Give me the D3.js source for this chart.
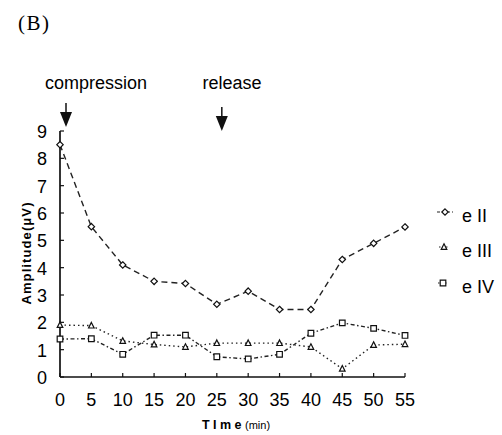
<!DOCTYPE html>
<html>
<head>
<meta charset="utf-8">
<script src="https://cdn.jsdelivr.net/npm/d3@7"></script>
<style>
  body { margin: 0; background: #fff; }
  text { font-family: "Liberation Sans", Arial, sans-serif; fill: #000; }
</style>
</head>
<body>
<svg id="chart" width="502" height="435"></svg>
<script>
const svg = d3.select("#chart");

// data
const times = [0, 5, 10, 15, 20, 25, 30, 35, 40, 45, 50, 55];
const eII  = [8.5, 5.5, 4.1, 3.5, 3.42, 2.66, 3.14, 2.47, 2.47, 4.3, 4.89, 5.49];
const eIII = [1.9, 1.88, 1.32, 1.19, 1.1, 1.24, 1.24, 1.24, 1.1, 0.3, 1.17, 1.2];
const eIV  = [1.39, 1.4, 0.83, 1.53, 1.53, 0.74, 0.66, 0.83, 1.6, 1.98, 1.78, 1.52];
const yTicks = [0, 1, 2, 3, 4, 5, 6, 7, 8, 9];
const xTicks = times;
const seriesNames = ["e II", "e III", "e IV"];
const events = [{t: 0, label: "compression"}, {t: 25, label: "release"}];

const x = d3.scaleLinear().domain([0, 55]).range([60, 405]);
const y = d3.scaleLinear().domain([0, 9]).range([377, 131]);

// panel label
svg.append("text").attr("x", 18).attr("y", 30)
  .style("font-family", "'Liberation Serif', 'DejaVu Serif', serif")
  .style("font-size", "21px").style("letter-spacing", "1.5px").text("(B)");

// axes
svg.append("line").attr("x1", x(0)).attr("x2", x(0)).attr("y1", y(9)).attr("y2", y(0))
  .attr("stroke", "#111").attr("stroke-width", 1.7);
svg.append("line").attr("x1", x(0)).attr("x2", x(55)).attr("y1", y(0)).attr("y2", y(0))
  .attr("stroke", "#111").attr("stroke-width", 1.7);

svg.append("g").selectAll("line").data(yTicks).enter().append("line")
  .attr("x1", x(0)).attr("x2", x(0) + 4)
  .attr("y1", d => y(d)).attr("y2", d => y(d))
  .attr("stroke", "#111").attr("stroke-width", 1.2);
svg.append("g").selectAll("text").data(yTicks).enter().append("text")
  .attr("x", 47).attr("y", d => y(d) + 7)
  .attr("text-anchor", "end").style("font-size", "18px").text(d => d);

svg.append("g").selectAll("line").data(xTicks).enter().append("line")
  .attr("x1", d => x(d)).attr("x2", d => x(d))
  .attr("y1", y(0)).attr("y2", y(0) - 4)
  .attr("stroke", "#111").attr("stroke-width", 1.2);
svg.append("g").selectAll("text").data(xTicks).enter().append("text")
  .attr("x", d => x(d)).attr("y", 406)
  .attr("text-anchor", "middle").style("font-size", "18px").text(d => d);

svg.append("text").attr("x", 236).attr("y", 429).attr("text-anchor", "middle")
  .style("font-size", "12.5px").style("font-weight", "bold")
  .html('T I m e <tspan style="font-size:11px;font-weight:normal">(min)</tspan>');

svg.append("text")
  .attr("transform", "translate(31,253) rotate(-90)")
  .attr("text-anchor", "middle")
  .style("font-size", "13px").style("font-weight", "bold").style("letter-spacing", "1.1px")
  .text("Amplitude(\u03BCV)");

// event labels and arrows
events.forEach(function (e, i) {
  const ax = x(e.t) + (i === 0 ? 6 : 5);
  svg.append("text").attr("x", i === 0 ? 96 : 232).attr("y", 89)
    .attr("text-anchor", "middle").style("font-size", "18px").text(e.label);
  const top = i === 0 ? 103 : 107;
  svg.append("line").attr("x1", ax).attr("x2", ax).attr("y1", top).attr("y2", top + 11)
    .attr("stroke", "#111").attr("stroke-width", 1.5);
  svg.append("path")
    .attr("d", `M${ax - 6},${top + 9} L${ax + 6},${top + 9} L${ax},${top + 24} Z`)
    .attr("fill", "#111");
});

// series
const series = [
  {name: seriesNames[0], values: eII,  dash: "6,4",           marker: "diamond"},
  {name: seriesNames[1], values: eIII, dash: "1.5,3",         marker: "triangle"},
  {name: seriesNames[2], values: eIV,  dash: "4,2.5,1.5,2.5", marker: "square"}
];

function markerPath(type, cx, cy) {
  if (type === "diamond") return `M${cx},${cy - 3.2} L${cx + 3.2},${cy} L${cx},${cy + 3.2} L${cx - 3.2},${cy} Z`;
  if (type === "triangle") return `M${cx},${cy - 3.2} L${cx + 2.8},${cy + 2.4} L${cx - 2.8},${cy + 2.4} Z`;
  return `M${cx - 2.8},${cy - 2.8} h5.6 v5.6 h-5.6 Z`;
}

const line = d3.line().x((d, i) => x(times[i])).y(d => y(d));

series.forEach(function (s) {
  svg.append("path").datum(s.values)
    .attr("d", line).attr("fill", "none")
    .attr("stroke", "#222").attr("stroke-width", 1.4)
    .attr("stroke-dasharray", s.dash);
  svg.append("g").selectAll("path").data(s.values).enter().append("path")
    .attr("d", (d, i) => markerPath(s.marker, x(times[i]), y(d)))
    .attr("fill", "#fff").attr("stroke", "#111").attr("stroke-width", 1.2);
});

// legend
const legendY = [212, 247, 283];
series.forEach(function (s, i) {
  const ly = legendY[i];
  const mx = 445 - i;
  svg.append("line").attr("x1", mx - (i === 0 ? 8 : 5)).attr("x2", mx + (i === 0 ? 8 : 5))
    .attr("y1", ly).attr("y2", ly)
    .attr("stroke", "#222").attr("stroke-width", 1.2)
    .attr("stroke-dasharray", i === 0 ? "3,2" : "1.5,2");
  svg.append("path").attr("d", markerPath(s.marker, mx, ly))
    .attr("fill", "#fff").attr("stroke", "#111").attr("stroke-width", 1.2);
  svg.append("text").attr("x", 462).attr("y", ly + 9.5)
    .style("font-size", "18px").text(s.name);
});
</script>
</body>
</html>
